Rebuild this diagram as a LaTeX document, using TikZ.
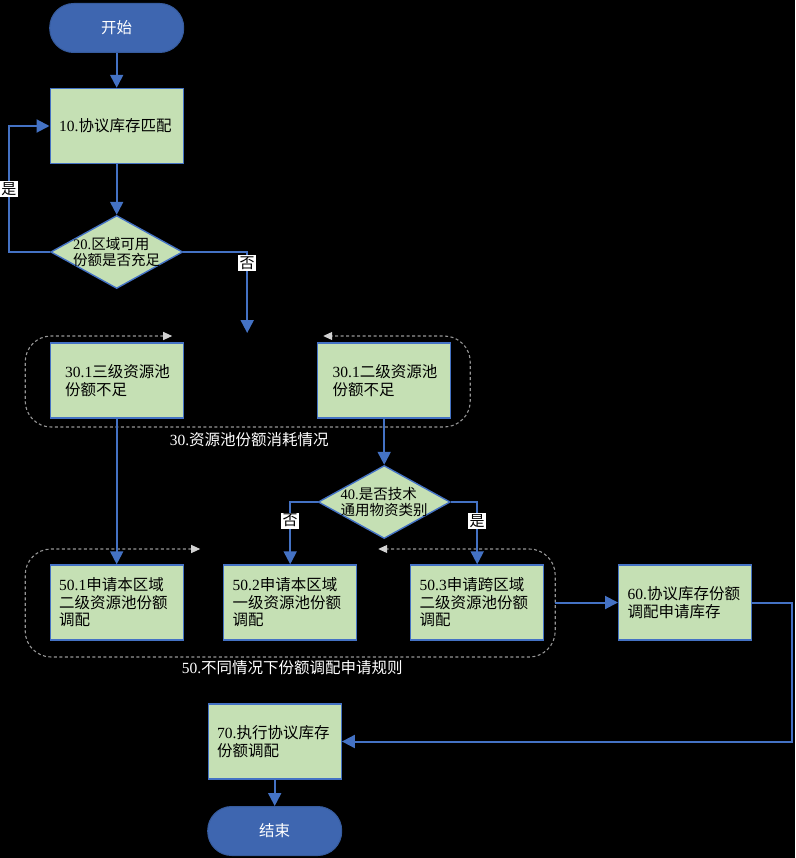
\documentclass[tikz,border=0pt]{standalone}
\usepackage{fontspec}
\setmainfont{Liberation Serif}
\newfontfamily\cjk{Noto Sans CJK SC}
\newcommand{\zh}[1]{{\cjk #1}}
\usetikzlibrary{arrows.meta,shapes.geometric}
\definecolor{boxgreen}{RGB}{197,224,180}
\definecolor{lineblue}{RGB}{68,114,196}
\definecolor{termblue}{RGB}{62,102,176}
\definecolor{groupgray}{RGB}{150,150,150}

\begin{document}
\begin{tikzpicture}[x=1pt,y=-1pt,
  proc/.style={draw=lineblue,line width=1.4pt,fill=boxgreen,minimum height=75pt,
    inner xsep=9pt,text width=115pt,align=left,font=\fontsize{15.5}{17.5}\selectfont},
  term/.style={draw=lineblue!80!black,line width=1pt,fill=termblue,rounded corners=24pt,
    minimum width=134pt,minimum height=49pt,text=white,font=\fontsize{15.5}{18}\selectfont},
  decision/.style={diamond,draw=lineblue,line width=1.4pt,fill=boxgreen,
    minimum width=132pt,minimum height=73pt,inner sep=0pt},
  dtext/.style={align=left,inner sep=0pt,font=\fontsize{14.5}{15.5}\selectfont},
  flow/.style={draw=lineblue,line width=2pt,-{Triangle[width=13pt,length=13pt]}},
  cycleline/.style={draw=groupgray,line width=1.1pt,dash pattern=on 3pt off 2.5pt,rounded corners=26pt,
    {Triangle[width=8pt,length=9pt,color=gray!35!white]}-{Triangle[width=8pt,length=9pt,color=gray!35!white]}},
  answer/.style={fill=white,text=black,inner sep=1.5pt,font=\fontsize{15}{15}\selectfont},
  grouplabel/.style={text=white,inner sep=0pt,font=\fontsize{15.5}{18}\selectfont}]

  \fill[black] (0,0) rectangle (795,858);

  \node[term] (start) at (116.5,28) {\zh{开始}};
  \node[proc] (b10) at (116.5,126) {10.\zh{协议库存匹配}};
  \node[decision,label={[dtext]center:20.\zh{区域可用}\\\zh{份额是否充足}}] (d20) at (116.5,252) {};
  \coordinate (gap30) at (247,333);

  \draw[cycleline] (172,336) -- (25,336) -- (25,427) -- (470,427) -- (470,336) -- (323,336);
  \node[proc,inner xsep=15pt,text width=103pt] (b301) at (116.5,380.5) {30.1\zh{三级资源池}\\\zh{份额不足}};
  \node[proc,inner xsep=15pt,text width=103pt] (b302) at (384,380.5) {30.1\zh{二级资源池}\\\zh{份额不足}};
  \node[grouplabel] (cap30) at (249,440) {30.\zh{资源池份额消耗情况}};

  \node[decision,label={[dtext]center:40.\zh{是否技术}\\\zh{通用物资类别}}] (d40) at (384,502) {};

  \draw[cycleline] (200,549) -- (25,549) -- (25,657) -- (555,657) -- (555,549) -- (378,549);
  \node[proc] (b501) at (116.5,602.5) {50.1\zh{申请本区域}\\\zh{二级资源池份额}\\\zh{调配}};
  \node[proc] (b502) at (290,602.5) {50.2\zh{申请本区域}\\\zh{一级资源池份额}\\\zh{调配}};
  \node[proc] (b503) at (477,602.5) {50.3\zh{申请跨区域}\\\zh{二级资源池份额}\\\zh{调配}};
  \node[grouplabel] (cap50) at (292,668) {50.\zh{不同情况下份额调配申请规则}};
  \coordinate (g50east) at (555,602.5);

  \node[proc] (b60) at (685,602.5) {60.\zh{协议库存份额}\\\zh{调配申请库存}};
  \node[proc] (b70) at (274.5,741.5) {70.\zh{执行协议库存}\\\zh{份额调配}};
  \node[term] (finish) at (274.5,831) {\zh{结束}};

  \draw[flow] (start) -- (b10);
  \draw[flow] (b10) -- (d20);
  \draw[flow] (d20.west) -- ++(-41,0) |- (b10.west) node[answer,pos=0.25] {\zh{是}};
  \draw[flow] (d20.east) -| (gap30) node[answer,pos=0.57] {\zh{否}};
  \draw[flow] (b301) -- (b501);
  \draw[flow] (b302) -- (d40);
  \draw[flow] (d40.west) -| (b502.north) node[answer,pos=0.65] {\zh{否}};
  \draw[flow] (d40.east) -| (b503.north) node[answer,pos=0.65] {\zh{是}};
  \draw[flow] (g50east) -- (b60);
  \draw[flow] (b60.east) -- ++(40,0) |- (b70.east);
  \draw[flow] (b70) -- (finish);
\end{tikzpicture}
\end{document}
